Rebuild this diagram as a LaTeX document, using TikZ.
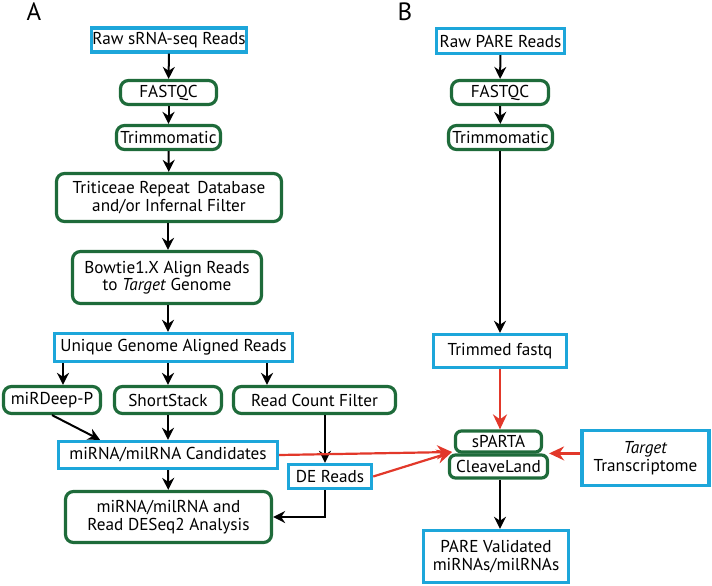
\documentclass[tikz,border=0pt]{standalone}
\usepackage{fontspec}
\setmainfont{PT Sans}
\usepackage{tikz}
\usetikzlibrary{arrows.meta}
\definecolor{boxblue}{HTML}{1DA6DA}
\definecolor{boxgreen}{HTML}{1E6B3A}
\definecolor{flowred}{HTML}{E2382A}

\begin{document}
\begin{tikzpicture}[x=1pt, y=-1pt, >={Stealth[length=12pt,width=12pt]},
  font=\fontsize{17.2}{18.5}\selectfont,
  data/.style={draw=boxblue, line width=3.4pt, inner sep=1pt, align=center},
  tool/.style={draw=boxgreen, line width=3.2pt, rounded corners=8pt, inner sep=1pt, align=center},
  flow/.style={->, line width=2pt},
  hit/.style={->, line width=2.2pt, draw=flowred, >={Stealth[length=15pt,width=14pt]}, color=flowred}]
  \useasboundingbox (0,0) rectangle (712,586);
  \node[font=\fontsize{25}{28}\selectfont] (labA) at (34,12) {A};
  \node[font=\fontsize{25}{28}\selectfont] (labB) at (405,12) {B};
  % sRNA-seq side
  \node[data, minimum width=151, minimum height=24] (rawL) at (169,40) {Raw sRNA-seq Reads};
  \node[tool, minimum width=96, minimum height=24] (fqL) at (168.5,92.5) {FASTQC};
  \node[tool, minimum width=104, minimum height=24] (trimL) at (168.5,137.5) {Trimmomatic};
  \node[tool, minimum width=225, minimum height=48] (repeat) at (169,197.5) {Triticeae Repeat\, Database\\[-1pt]and/or Infernal Filter};
  \node[tool, minimum width=189, minimum height=52] (bowtie) at (167,277.5) {Bowtie1.X Align Reads\\[-1pt]to \textit{Target} Genome};
  \node[data, minimum width=238, minimum height=28] (unique) at (173.5,347.5) {Unique Genome Aligned Reads};
  \node[tool, minimum width=97, minimum height=27] (mirdeep) at (52,400) {miRDeep-P};
  \node[tool, minimum width=107, minimum height=27] (short) at (168,400) {ShortStack};
  \node[tool, minimum width=162, minimum height=27] (rcf) at (314.5,400) {Read Count Filter};
  \node[data, minimum width=219, minimum height=27] (cand) at (168,455) {miRNA/milRNA Candidates};
  \node[data, minimum width=83, minimum height=24] (de) at (330,476.5) {DE Reads};
  \node[tool, minimum width=206, minimum height=51] (deseq) at (168.5,517) {miRNA/milRNA and\\[-1pt]Read DESeq2 Analysis};
  % PARE side
  \node[data, minimum width=128, minimum height=25] (rawR) at (500.5,41) {Raw PARE Reads};
  \node[tool, minimum width=97, minimum height=24] (fqR) at (500,92.5) {FASTQC};
  \node[tool, minimum width=104, minimum height=24] (trimR) at (500.5,137.5) {Trimmomatic};
  \node[data, minimum width=133, minimum height=33] (trimmed) at (500,351) {Trimmed fastq};
  \node[tool, minimum width=86, minimum height=21, rounded corners=6pt] (sparta) at (498.5,441.5) {sPARTA};
  \node[tool, minimum width=98, minimum height=23, rounded corners=6pt] (cleave) at (498.5,466.5) {CleaveLand};
  \node[data, minimum width=127, minimum height=55] (target) at (645.5,458) {\textit{Target}\\[-1pt]Transcriptome};
  \node[data, minimum width=145, minimum height=52] (pare) at (496,556.5) {PARE Validated\\[-1pt]miRNAs/milRNAs};
  \coordinate (hub) at (452,452);
  % connectors
  \draw[flow] (rawL) -- (fqL);
  \draw[flow] (fqL) -- (trimL);
  \draw[flow] (trimL) -- (repeat);
  \draw[flow] (repeat.south -| 168,0) -- (bowtie.north -| 168,0);
  \draw[flow] (bowtie.south -| 168,0) -- (unique.north -| 168,0);
  \draw[flow] (unique.south -| 63,0) -- (mirdeep.north -| 63,0);
  \draw[flow] (unique.south -| short) -- (short);
  \draw[flow] (unique.south -| 267,0) -- (rcf.north -| 267,0);
  \draw[flow] (mirdeep.south) -- (cand.north -| 100,0);
  \draw[flow] (short) -- (cand);
  \draw[flow] (rcf.south -| 325,0) -- (de.north -| 325,0);
  \draw[flow] (cand) -- (deseq);
  \draw[flow] (de.south -| 325,0) |- (deseq.east);
  \draw[flow] (rawR) -- (fqR);
  \draw[flow] (fqR) -- (trimR);
  \draw[flow] (trimR.south -| trimmed) -- (trimmed);
  \draw[flow] (cleave.south -| 500,0) -- (pare.north -| 500,0);
  \draw[hit] (trimmed) -- (sparta.north -| trimmed);
  \draw[hit] (cand.east) -- (hub);
  \draw[hit] (de.east) -- (hub);
  \draw[hit] (target.west |- cleave.north east) -- (cleave.north east);
\end{tikzpicture}
\end{document}
